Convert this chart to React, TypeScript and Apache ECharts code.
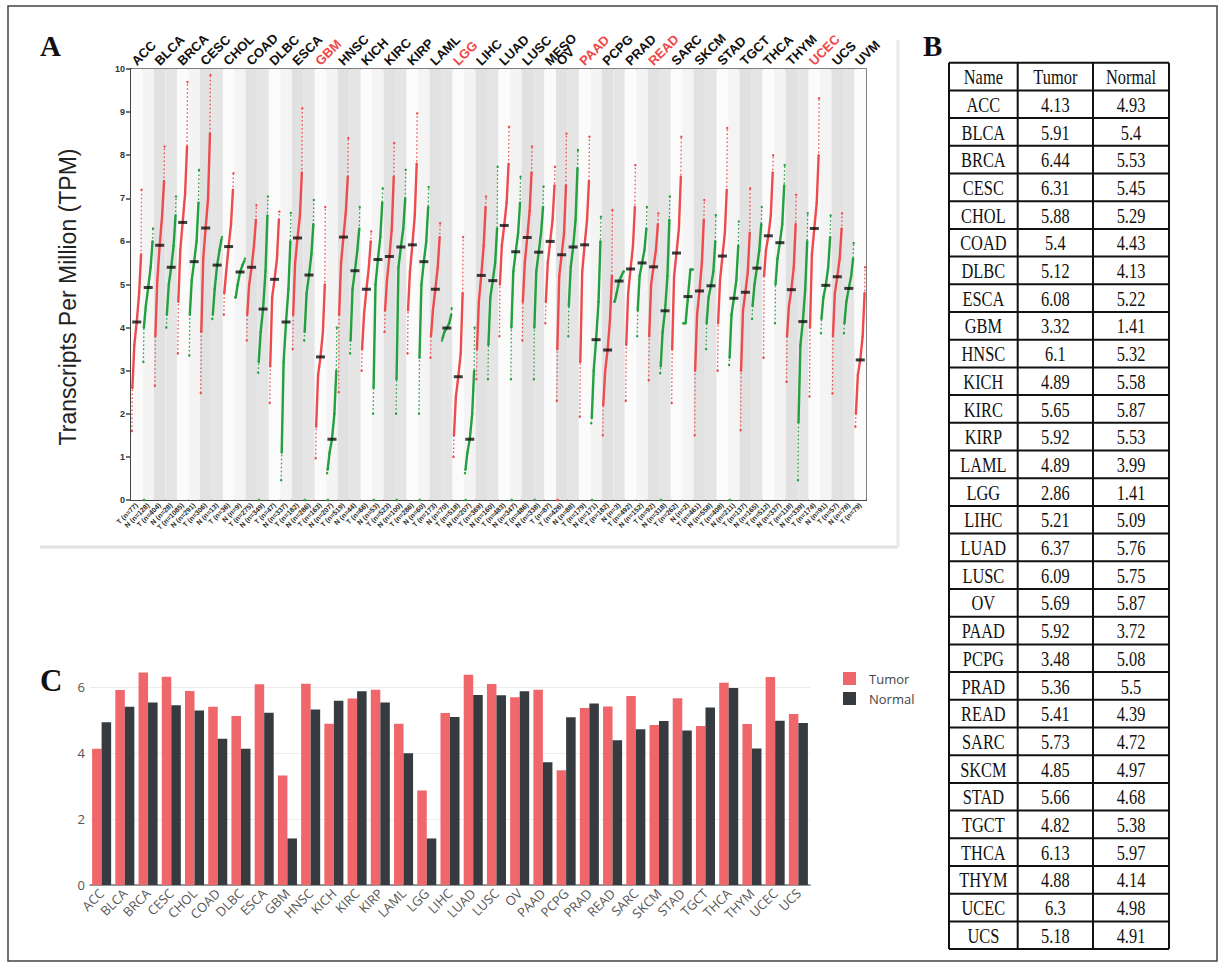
import { useEffect, useRef } from "react";
import * as echarts from "echarts";

// ---------- Panel B / C data ----------
const TABLE_NAMES = ["ACC","BLCA","BRCA","CESC","CHOL","COAD","DLBC","ESCA","GBM","HNSC","KICH","KIRC","KIRP","LAML","LGG","LIHC","LUAD","LUSC","OV","PAAD","PCPG","PRAD","READ","SARC","SKCM","STAD","TGCT","THCA","THYM","UCEC","UCS"];
const TUMOR = [4.13,5.91,6.44,6.31,5.88,5.4,5.12,6.08,3.32,6.1,4.89,5.65,5.92,4.89,2.86,5.21,6.37,6.09,5.69,5.92,3.48,5.36,5.41,5.73,4.85,5.66,4.82,6.13,4.88,6.3,5.18];
const NORMAL = [4.93,5.4,5.53,5.45,5.29,4.43,4.13,5.22,1.41,5.32,5.58,5.87,5.53,3.99,1.41,5.09,5.76,5.75,5.87,3.72,5.08,5.5,4.39,4.72,4.97,4.68,5.38,5.97,4.14,4.98,4.91];
const TABLE_HEADER = ["Name", "Tumor", "Normal"];

// ---------- Panel A data ----------
const DOT_CANCERS = ["ACC","BLCA","BRCA","CESC","CHOL","COAD","DLBC","ESCA","GBM","HNSC","KICH","KIRC","KIRP","LAML","LGG","LIHC","LUAD","LUSC","MESO","OV","PAAD","PCPG","PRAD","READ","SARC","SKCM","STAD","TGCT","THCA","THYM","UCEC","UCS","UVM"];
const DOT_RED_NAMES = ["GBM","LGG","PAAD","READ","UCEC"];
const TUMOR_ONLY = ["MESO","UVM"];
const DOT_TICKS = ["T (n=77)","N (n=128)","T (n=404)","N (n=28)","T (n=1085)","N (n=291)","T (n=306)","N (n=13)","T (n=36)","N (n=9)","T (n=275)","N (n=349)","T (n=47)","N (n=337)","T (n=182)","N (n=286)","T (n=163)","N (n=207)","T (n=519)","N (n=44)","T (n=66)","N (n=53)","T (n=523)","N (n=100)","T (n=286)","N (n=60)","T (n=173)","N (n=70)","T (n=518)","N (n=207)","T (n=369)","N (n=160)","T (n=483)","N (n=347)","T (n=486)","N (n=338)","T (n=87)","T (n=426)","N (n=88)","T (n=179)","N (n=171)","T (n=182)","N (n=3)","T (n=492)","N (n=152)","T (n=92)","N (n=318)","T (n=262)","N (n=2)","T (n=461)","N (n=558)","T (n=408)","N (n=211)","T (n=137)","N (n=165)","T (n=512)","N (n=337)","T (n=118)","N (n=339)","T (n=174)","N (n=91)","T (n=57)","N (n=78)","T (n=79)"];
// read quantiles of each column: min, p5, p25, median, p75, p95, max
const QPOS = [0, 0.05, 0.25, 0.5, 0.75, 0.95, 1];
const DOT_Q: number[][] = [
  [1.6,2.6,3.6,4.13,4.8,5.7,7.2],
  [3.2,4.0,4.5,4.93,5.4,6.0,6.3],
  [2.65,3.8,5.1,5.91,6.6,7.4,8.2],
  [4.0,4.3,5.0,5.4,5.9,6.6,7.04],
  [3.4,4.6,5.8,6.44,7.1,8.2,9.7],
  [3.35,4.3,5.1,5.53,6.0,6.9,7.66],
  [2.48,3.9,5.6,6.31,7.0,8.5,9.86],
  [4.2,4.3,4.9,5.45,5.8,6.05,6.1],
  [4.3,4.8,5.3,5.88,6.4,7.2,7.58],
  [4.7,4.7,5.0,5.29,5.45,5.55,5.6],
  [3.7,4.3,5.0,5.4,5.9,6.5,6.84],
  [2.95,3.2,3.9,4.43,5.3,6.6,7.04],
  [2.25,3.1,4.7,5.12,5.6,6.5,6.69],
  [0.46,1.1,3.2,4.13,4.9,6.0,6.66],
  [3.5,4.3,5.5,6.08,6.6,7.6,9.09],
  [3.7,3.9,4.8,5.22,5.7,6.4,6.96],
  [0.97,1.7,2.9,3.32,3.9,5.0,6.8],
  [0.62,0.7,1.1,1.41,2.0,3.0,4.0],
  [2.5,4.3,5.5,6.1,6.7,7.5,8.4],
  [3.4,3.7,4.9,5.32,5.8,6.3,6.8],
  [3.0,3.5,4.3,4.89,5.4,6.0,6.23],
  [2.0,2.6,5.0,5.58,6.1,6.9,7.23],
  [3.9,4.4,5.1,5.65,6.3,7.5,8.28],
  [2.0,2.8,5.4,5.87,6.3,7.0,7.66],
  [3.4,4.4,5.3,5.92,6.6,7.8,8.97],
  [2.0,3.3,5.0,5.53,6.0,6.8,7.26],
  [3.3,3.8,4.4,4.89,5.4,6.1,6.42],
  [3.7,3.75,3.9,3.99,4.1,4.3,4.45],
  [1.0,1.5,2.4,2.86,3.4,4.8,6.1],
  [0.62,0.7,1.1,1.41,2.0,3.0,4.0],
  [2.8,3.5,4.6,5.21,5.9,6.8,7.04],
  [2.8,3.6,4.7,5.09,5.5,6.3,7.73],
  [3.8,5.0,5.9,6.37,6.9,7.8,8.66],
  [2.8,4.0,5.3,5.76,6.2,6.9,7.5],
  [3.7,4.6,5.5,6.09,6.7,7.6,8.2],
  [2.8,4.0,5.3,5.75,6.2,6.8,7.27],
  [4.1,4.6,5.5,6.0,6.5,7.3,7.73],
  [2.3,3.5,5.2,5.69,6.2,7.3,8.5],
  [3.8,4.5,5.4,5.87,6.5,7.7,8.12],
  [1.93,3.2,5.3,5.92,6.5,7.4,8.43],
  [1.78,1.9,3.0,3.72,4.6,6.0,6.57],
  [1.5,2.2,3.0,3.48,4.2,5.2,6.73],
  [4.6,4.6,4.8,5.08,5.2,5.3,5.3],
  [2.3,3.6,4.8,5.36,5.9,6.8,7.77],
  [3.8,4.4,5.2,5.5,5.8,6.3,6.8],
  [2.78,3.8,5.0,5.41,5.8,6.4,6.65],
  [2.94,3.1,3.9,4.39,5.2,6.5,7.04],
  [2.25,3.5,5.2,5.73,6.3,7.5,8.43],
  [4.1,4.1,4.1,4.72,5.35,5.35,5.35],
  [1.5,3.0,4.3,4.85,5.5,6.5,6.96],
  [3.5,4.1,4.7,4.97,5.3,6.0,6.61],
  [3.0,4.1,5.1,5.66,6.2,7.2,8.63],
  [3.13,3.3,4.3,4.68,5.1,5.9,6.46],
  [1.62,3.0,4.4,4.82,5.3,6.2,7.23],
  [4.2,4.5,5.0,5.38,5.8,6.4,6.8],
  [3.3,5.2,5.8,6.13,6.6,7.6,8.0],
  [4.1,5.0,5.6,5.97,6.4,7.3,7.77],
  [2.74,3.8,4.5,4.88,5.4,6.4,7.08],
  [0.46,1.8,3.6,4.14,4.9,6.0,6.65],
  [2.4,4.0,5.7,6.3,6.9,8.0,9.32],
  [3.87,4.2,4.7,4.98,5.4,6.1,6.6],
  [2.47,3.8,4.8,5.18,5.6,6.3,6.65],
  [3.87,4.1,4.6,4.91,5.2,5.6,5.96],
  [1.7,2.0,2.9,3.25,3.8,4.8,5.4],
];
// columns that show a single sample at 0 TPM
const ZERO_COLS = [1, 11, 15, 17, 21, 23, 25, 29, 33, 35, 37, 40, 46, 52];

const RED = "#ef4b4e";
const GREEN = "#23a03f";
const SERIF = "'Liberation Serif', 'Times New Roman', serif";
const SANS = "'Liberation Sans', Arial, sans-serif";
const OPEN = "'Open Sans', sans-serif";

export default function App() {
  const ref = useRef<HTMLDivElement>(null);
  useEffect(() => {
    const chart = echarts.init(ref.current!, null, { renderer: "svg" });

    // columns of panel A
    const cols: { c: string; k: string; g: number }[] = [];
    DOT_CANCERS.forEach((c, g) => {
      cols.push({ c, k: "T", g });
      if (!TUMOR_ONLY.includes(c)) cols.push({ c, k: "N", g });
    });

    const series: any[] = [];
    // background bands
    series.push({
      type: "scatter", xAxisIndex: 0, yAxisIndex: 0, data: [], silent: true, z: 1,
      markArea: {
        silent: true,
        data: cols.map((col, i) => [
          { xAxis: i, itemStyle: { color: col.g % 2 === 1 ? (col.k === "T" ? "#e1e1e1" : "#e5e5e5") : (col.k === "T" ? "#fbfbfb" : "#f4f4f4") } },
          { xAxis: i + 1 },
        ]),
      },
    });
    cols.forEach((col, i) => {
      const q = DOT_Q[i];
      const color = col.k === "T" ? RED : GREEN;
      const pts = q.map((v, j) => [i + 0.08 + 0.84 * QPOS[j], v]);
      series.push({
        type: "line", xAxisIndex: 0, yAxisIndex: 0, data: pts, silent: true, z: 3,
        symbol: "circle", symbolSize: 2.4, showSymbol: true,
        itemStyle: { color }, lineStyle: { color, width: 1.3, type: [1.5, 2.5] },
      });
      series.push({
        type: "line", xAxisIndex: 0, yAxisIndex: 0, data: pts.slice(1, 6), silent: true, z: 3,
        symbol: "none", lineStyle: { color, width: 2.4 },
      });
    });
    series.push({
      type: "scatter", xAxisIndex: 0, yAxisIndex: 0, silent: true, z: 4, clip: false,
      symbolSize: 3,
      data: ZERO_COLS.map((i) => ({ value: [i + 0.15, 0], itemStyle: { color: cols[i].k === "T" ? RED : GREEN } })),
    });
    series.push({
      type: "scatter", xAxisIndex: 0, yAxisIndex: 0, silent: true, z: 5,
      symbol: "rect", symbolSize: [9, 3], itemStyle: { color: "#111" },
      data: cols.map((_, i) => [i + 0.5, DOT_Q[i][3]]),
    });

    // Panel C bars
    series.push({
      name: "Tumor", type: "bar", xAxisIndex: 2, yAxisIndex: 1, data: TUMOR,
      itemStyle: { color: "#f0676b" }, barGap: "0%", barCategoryGap: "18%",
    });
    series.push({
      name: "Normal", type: "bar", xAxisIndex: 2, yAxisIndex: 1, data: NORMAL,
      itemStyle: { color: "#353b3e" }, barGap: "0%", barCategoryGap: "18%",
    });

    // graphics: table, frames, labels
    const graphic: any[] = [];
    graphic.push({ type: "rect", shape: { x: 8, y: 6, width: 1209, height: 955 }, style: { fill: "none", stroke: "#444", lineWidth: 1.5 }, z: 0 });
    graphic.push({ type: "line", shape: { x1: 40, y1: 547, x2: 898, y2: 547 }, style: { stroke: "#e2e2e2", lineWidth: 3 } });
    graphic.push({ type: "line", shape: { x1: 898, y1: 40, x2: 898, y2: 547 }, style: { stroke: "#eaeaea", lineWidth: 3 } });
    graphic.push({ type: "text", x: 40, y: 46, style: { text: "A", font: `bold 29px ${SERIF}`, fill: "#111", verticalAlign: "middle" } });
    graphic.push({ type: "text", x: 923, y: 46, style: { text: "B", font: `bold 29px ${SERIF}`, fill: "#111", verticalAlign: "middle" } });
    graphic.push({ type: "text", x: 40, y: 680, style: { text: "C", font: `bold 31px ${SERIF}`, fill: "#111", verticalAlign: "middle" } });
    graphic.push({ type: "text", x: 68, y: 297, rotation: Math.PI / 2, style: { text: "Transcripts Per Million (TPM)", font: `23px ${SANS}`, fill: "#222", align: "center", verticalAlign: "middle" } });

    const TX = [949, 1017.7, 1093, 1169];
    const TY0 = 62.7;
    const TRH = 27.7;
    const rows = [TABLE_HEADER, ...TABLE_NAMES.map((n, i) => [n, String(TUMOR[i]), String(NORMAL[i])])];
    const TY1 = TY0 + rows.length * TRH;
    for (let r = 0; r <= rows.length; r++) {
      graphic.push({ type: "line", shape: { x1: TX[0], y1: TY0 + r * TRH, x2: TX[3], y2: TY0 + r * TRH }, style: { stroke: "#111", lineWidth: 2 } });
    }
    TX.forEach((x) => graphic.push({ type: "line", shape: { x1: x, y1: TY0, x2: x, y2: TY1 }, style: { stroke: "#111", lineWidth: 2 } }));
    rows.forEach((row, r) => {
      row.forEach((t, c) => {
        graphic.push({
          type: "text", x: (TX[c] + TX[c + 1]) / 2, y: TY0 + (r + 0.5) * TRH + 1, scaleX: 0.82,
          style: { text: t, font: `20px ${SERIF}`, fill: "#111", align: "center", verticalAlign: "middle" },
        });
      });
    });

    const option: any = {
      animation: false,
      backgroundColor: "#fff",
      grid: [
        { left: 131, top: 69, width: 735, height: 431, show: true, borderColor: "#555", borderWidth: 1.5, backgroundColor: "transparent" },
        { left: 90, top: 654, width: 720, height: 231 },
      ],
      legend: {
        data: ["Tumor", "Normal"], orient: "vertical", left: 838, top: 667,
        itemWidth: 13, itemHeight: 13, itemGap: 7, icon: "rect",
        textStyle: { fontSize: 13, color: "#444", fontFamily: OPEN, padding: [0, 0, 0, 8] },
      },
      xAxis: [
        { type: "value", gridIndex: 0, min: 0, max: 64, show: false },
        {
          type: "category", gridIndex: 0, data: DOT_TICKS, position: "bottom",
          axisLine: { lineStyle: { color: "#444", width: 2 } }, axisTick: { show: false },
          axisLabel: { interval: 0, rotate: 45, fontSize: 7, fontWeight: "bold", color: "#2a2a2a", margin: 4, fontFamily: SANS },
        },
        {
          type: "category", gridIndex: 1, data: TABLE_NAMES,
          axisLine: { lineStyle: { color: "#777", width: 1.5 } }, axisTick: { show: false },
          axisLabel: { interval: 0, rotate: 45, fontSize: 13, color: "#555", margin: 6, fontFamily: OPEN },
        },
      ],
      yAxis: [
        {
          type: "value", gridIndex: 0, min: 0, max: 10, interval: 1,
          axisLine: { show: true, lineStyle: { color: "#444", width: 2 } },
          axisTick: { show: true, length: 5, lineStyle: { color: "#444", width: 1.5 } },
          axisLabel: { fontSize: 9, fontWeight: "bold", color: "#333", margin: 6, fontFamily: SANS },
          splitLine: { show: false },
        },
        {
          type: "value", gridIndex: 1, min: 0, max: 7, interval: 2,
          axisLine: { show: false }, axisTick: { show: false },
          axisLabel: { fontSize: 13, color: "#555", margin: 5, showMaxLabel: false, fontFamily: OPEN },
          splitLine: { lineStyle: { color: ["#ececec", "#ececec", "#ececec", "#ececec", "rgba(0,0,0,0)"] } },
        },
      ],
      series,
      graphic,
    };
    chart.setOption(option);

    // cancer names above panel A, placed through the chart's own scale
    const topLabels: any[] = [];
    cols.forEach((col, i) => {
      if (col.k !== "T") return;
      const p = chart.convertToPixel({ xAxisIndex: 0, yAxisIndex: 0 }, [i + 0.5, 10]) as number[];
      topLabels.push({
        type: "text", x: p[0] - 3, y: p[1] - 6, rotation: Math.PI / 4,
        style: {
          text: col.c, font: `bold 13px ${SANS}`,
          fill: DOT_RED_NAMES.includes(col.c) ? "#f04848" : "#111",
          align: "left", verticalAlign: "middle",
        },
      });
    });
    chart.setOption({ graphic: [...graphic, ...topLabels] });

    return () => chart.dispose();
  }, []);
  return <div ref={ref} style={{ position: "absolute", left: 0, top: 0, width: 1225, height: 969, background: "#fff" }} />;
}
